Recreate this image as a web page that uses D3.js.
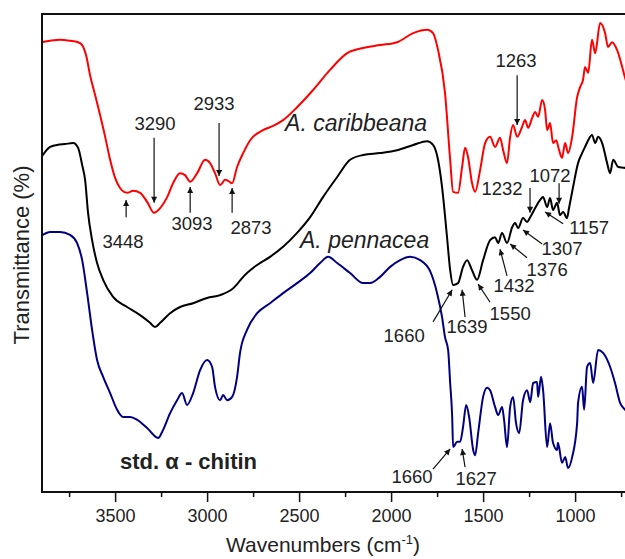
<!DOCTYPE html>
<html>
<head>
<meta charset="utf-8">
<script src="https://cdn.jsdelivr.net/npm/d3@7"></script>
<style>
  html, body { margin: 0; padding: 0; background: #fff; }
  svg { display: block; }
  text { font-family: "Liberation Sans", Arial, Helvetica, sans-serif; fill: #222; }
</style>
</head>
<body>
<div id="chart"></div>
<script>
// ---- Data (wavenumber cm^-1, transmittance a.u.) ----
const caribbeanaWn = [3900,3853,3799,3745,3701,3679,3658,3636,3609,3582,3554,3527,3500,3473,3435,3402,3364,3326,3288,3255,3217,3185,3147,3120,3092,3054,3011,2984,2957,2929,2902,2886,2864,2837,2804,2766,2696,2641,2587,2511,2424,2332,2239,2152,2060,1967,1880,1804,1772,1745,1707,1679,1663,1636,1614,1598,1582,1560,1543,1516,1489,1462,1435,1408,1391,1370,1353,1337,1315,1288,1272,1255,1234,1217,1201,1179,1163,1152,1136,1120,1103,1087,1071,1054,1038,1016,989,973,957,946,929,908,891,864,837,821,799,772,728,700];
const caribbeanaT  = [94.1,94.4,94.6,94.4,94.1,93.5,91.4,87.2,83.1,78.9,74.3,69.5,65.7,63.6,62.6,63.0,62.6,60.7,58.4,59.4,61.7,64.6,66.7,66.3,64.9,66.7,69.5,68.8,66.7,64.2,65.3,65.1,64.6,68.0,70.9,73.6,75.7,76.6,77.8,80.5,84.1,88.3,91.8,92.9,93.5,94.1,96.0,96.7,96.0,92.5,83.5,69.5,62.8,62.6,68.0,72.0,70.1,64.6,62.8,67.4,73.0,74.3,72.2,74.1,71.5,68.8,74.3,76.8,74.3,76.4,77.8,76.2,78.2,79.5,78.5,82.0,79.9,75.7,77.2,73.0,73.6,71.5,69.9,73.0,70.9,74.3,82.6,84.7,86.2,88.9,87.7,94.6,91.8,98.1,96.0,93.1,94.1,92.5,86.6,83.0];

const pennaceaWn = [3900,3853,3815,3772,3728,3701,3679,3663,3647,3625,3598,3565,3511,3435,3364,3310,3283,3255,3201,3147,3076,3000,2929,2859,2830,2804,2728,2658,2587,2511,2440,2370,2293,2223,2152,2060,1967,1880,1804,1772,1745,1723,1696,1679,1663,1636,1609,1587,1560,1533,1500,1462,1435,1418,1397,1370,1342,1326,1310,1283,1261,1244,1217,1190,1174,1152,1136,1120,1098,1082,1065,1044,1033,1011,984,962,946,929,908,891,875,853,826,810,793,766,728,700];
const pennaceaT  = [70.1,72.2,72.6,72.8,73.0,72.0,68.4,65.3,58.4,52.7,47.9,44.4,40.8,38.7,37.0,35.4,34.5,35.4,37.4,38.7,39.5,40.6,41.2,42.6,43.8,45.0,47.5,49.2,51.3,54.2,57.5,61.7,65.9,69.5,70.5,70.9,71.5,72.6,73.4,72.6,69.5,63.8,53.3,46.4,43.3,43.7,47.1,48.5,46.4,44.4,48.5,52.7,53.3,52.1,54.2,52.1,55.4,56.3,55.2,57.3,56.5,57.5,59.4,61.1,61.7,59.6,61.5,59.0,60.5,57.9,58.6,57.3,59.4,63.8,68.8,70.9,72.2,73.6,74.7,73.0,74.3,73.0,68.8,66.7,69.5,68.0,67.8,67.0];

const chitinWn = [3900,3853,3799,3745,3707,3679,3652,3625,3598,3565,3527,3489,3457,3418,3380,3326,3266,3239,3201,3163,3136,3109,3076,3038,3000,2973,2957,2929,2913,2891,2864,2837,2821,2783,2728,2658,2587,2511,2440,2386,2342,2293,2223,2152,2114,2060,2005,1951,1897,1842,1788,1750,1723,1707,1690,1679,1668,1663,1641,1625,1609,1592,1576,1554,1543,1527,1500,1478,1462,1435,1418,1397,1386,1370,1353,1337,1321,1304,1283,1261,1244,1228,1207,1201,1185,1174,1152,1136,1120,1098,1093,1071,1054,1038,1016,989,984,962,951,935,918,902,875,848,810,783,755,728,700];
const chitinT  = [53.6,54.4,54.4,53.8,52.1,48.5,41.6,33.9,27.6,24.1,20.7,17.2,15.7,15.7,15.1,13.4,11.3,13.0,16.5,19.2,20.7,18.2,20.7,25.5,27.6,26.2,22.0,19.2,20.3,19.2,19.9,24.1,29.1,33.9,37.4,39.5,41.6,43.7,45.8,47.9,49.2,47.9,45.8,43.7,43.7,45.0,47.1,48.5,49.2,48.5,46.2,41.6,36.6,32.4,29.7,22.8,15.7,9.4,10.5,10.5,13.6,18.2,15.7,8.8,7.7,12.3,19.9,21.8,21.3,17.8,16.1,17.8,15.1,9.4,17.8,19.9,14.4,12.3,19.2,21.3,18.8,22.8,23.0,19.9,24.1,21.3,9.4,14.4,10.3,8.8,10.3,6.1,7.3,5.0,7.3,14.4,18.6,22.0,17.2,26.2,27.0,22.8,29.7,29.1,26.2,22.8,18.6,17.2,16.0];

const majorTicks = [3500, 3000, 2500, 2000, 1500, 1000];
const minorTicks = [3750, 3250, 2750, 2250, 1750, 1250, 750];

const seriesNames  = ["A. caribbeana", "A. pennacea", "std. \u03b1 - chitin"];
const seriesColors = ["#ff0000", "#000000", "#000080"];
// label anchor positions in data units (wavenumber, T)
const seriesLabelWn = [2576, 2495, 3473];
const seriesLabelT  = [75.5, 51.0, 4.8];

// peak annotations: label, label pos (wn,T), arrow from (wn,T) to (wn,T)
const annLabels = ["3448","3290","3093","2933","2873","1263","1232","1072","1157","1307","1376","1432","1550","1639","1660","1660","1627"];
const annTextWn = [3457,3283,3082,2962,2761,1321,1397,1136,924,1071,1152,1332,1353,1587,1929,1886,1538];
const annTextT  = [51.0,75.7,54.8,79.9,54.0,88.9,62.1,64.9,54.0,49.6,45.2,41.8,36.0,33.3,31.4,1.9,1.5];
const annFromWn = [3440,3288,3092,2935,2864,1315,1245,1087,1065,1179,1261,1370,1462,1598,1772,1772,1598];
const annFromT  = [57.5,74.1,58.4,77.2,58.4,87.2,63.6,64.6,56.1,51.9,49.0,45.2,39.7,36.6,35.6,4.8,5.2];
const annToWn   = [3440,3288,3092,2935,2864,1315,1245,1087,1163,1283,1353,1408,1527,1614,1668,1679,1614];
const annToT    = [61.1,60.5,63.8,66.1,63.6,76.8,58.4,60.3,58.6,54.8,51.9,50.8,43.5,42.3,42.3,9.0,9.0];

// ---- Chart ----
const W = 625, H = 559;
const svg = d3.select("#chart").append("svg").attr("width", W).attr("height", H);

const x = d3.scaleLinear().domain([3900, 700]).range([41.5, 630.3]);
const y = d3.scaleLinear().domain([0, 100]).range([492, 14]);

svg.append("defs").append("marker")
  .attr("id", "arrow").attr("viewBox", "0 0 10 10")
  .attr("refX", 10).attr("refY", 5)
  .attr("markerWidth", 7).attr("markerHeight", 6)
  .attr("markerUnits", "userSpaceOnUse")
  .attr("orient", "auto")
  .append("path").attr("d", "M0,0 L10,5 L0,10 z").attr("fill", "#111");

svg.append("clipPath").attr("id", "plotclip")
  .append("rect").attr("x", 42).attr("y", 15).attr("width", 600).attr("height", 476);

const series = [
  { wn: caribbeanaWn, t: caribbeanaT },
  { wn: pennaceaWn, t: pennaceaT },
  { wn: chitinWn, t: chitinT }
];

const line = d3.line().x(d => x(d[0])).y(d => y(d[1])).curve(d3.curveMonotoneX);

const gPlot = svg.append("g").attr("clip-path", "url(#plotclip)");
series.forEach((s, i) => {
  const pts = s.wn.map((w, k) => [w, s.t[k]]);
  gPlot.append("path").datum(pts)
    .attr("d", line)
    .attr("fill", "none")
    .attr("stroke", seriesColors[i])
    .attr("stroke-width", 2)
    .attr("stroke-linejoin", "round");
});

// frame
svg.append("rect").attr("x", 42).attr("y", 14).attr("width", 600).attr("height", 478)
  .attr("fill", "none").attr("stroke", "#111").attr("stroke-width", 2);

// x axis
const xAxis = d3.axisBottom(x).tickValues(majorTicks).tickSize(10).tickSizeOuter(0)
  .tickFormat(d3.format("d"));
const gx = svg.append("g").attr("transform", `translate(0,${492})`).call(xAxis);
gx.select(".domain").remove();
gx.selectAll(".tick line").attr("stroke", "#111").attr("stroke-width", 1.5);
gx.selectAll(".tick text").attr("dy", 0).attr("y", 30)
  .style("font-family", "'Liberation Sans', Arial, sans-serif").style("font-size", "18px").attr("fill", "#222");
const xMinor = d3.axisBottom(x).tickValues(minorTicks).tickSize(5).tickFormat("");
const gxm = svg.append("g").attr("transform", `translate(0,${492})`).call(xMinor);
gxm.select(".domain").remove();
gxm.selectAll(".tick line").attr("stroke", "#111").attr("stroke-width", 1.5);

// axis titles
const xt = svg.append("text").attr("x", 323).attr("y", 552).attr("text-anchor", "middle")
  .style("font-size", "21px");
xt.append("tspan").text("Wavenumbers (cm");
xt.append("tspan").attr("dy", -8).style("font-size", "13px").text("-1");
xt.append("tspan").attr("dy", 8).text(")");

svg.append("text").attr("transform", "translate(29,255) rotate(-90)")
  .attr("text-anchor", "middle").style("font-size", "22px").text("Transmittance (%)");

// series labels
seriesNames.forEach((n, i) => {
  svg.append("text").attr("x", x(seriesLabelWn[i])).attr("y", y(seriesLabelT[i]))
    .style("font-size", i === 2 ? "22px" : "23px")
    .style("font-style", i === 2 ? "normal" : "italic")
    .style("font-weight", i === 2 ? "bold" : "normal")
    .attr("fill", "#222")
    .text(n);
});

// annotations
annLabels.forEach((lab, i) => {
  svg.append("line")
    .attr("x1", x(annFromWn[i])).attr("y1", y(annFromT[i]))
    .attr("x2", x(annToWn[i])).attr("y2", y(annToT[i]))
    .attr("stroke", "#111").attr("stroke-width", 1.2)
    .attr("marker-end", "url(#arrow)");
  svg.append("text").attr("x", x(annTextWn[i])).attr("y", y(annTextT[i]))
    .attr("text-anchor", "middle").style("font-size", "18.5px").text(lab);
});
</script>
</body>
</html>
